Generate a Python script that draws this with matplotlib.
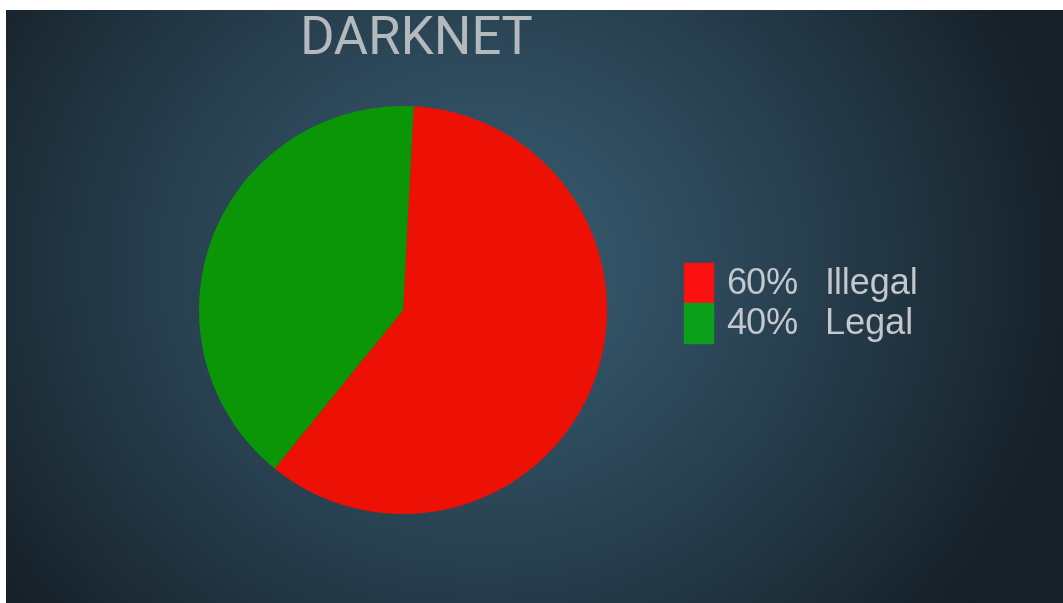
import numpy as np
import matplotlib.pyplot as plt
from matplotlib.patches import Rectangle

# data
labels = ['Illegal', 'Legal']
shares = [60, 40]
colors = ['#ec1005', '#0a9606']
legend_colors = ['#fa1010', '#0ca01a']
title = 'DARKNET'

W, H = 1063, 603
fig = plt.figure(figsize=(W / 100, H / 100), dpi=100)
fig.patch.set_facecolor('white')

# background: radial gradient, leaving a thin white strip top/left
bg = fig.add_axes([6 / W, 0, 1 - 6 / W, 1 - 10 / H])
bg.set_axis_off()
gx, gy = np.meshgrid(np.arange(W), np.arange(H))
t = np.sqrt(((gx - 480) / 600) ** 2 + ((gy - 260) / 560) ** 2)
t = np.clip(t, 0, 1) ** 1.2
c_in = np.array([0x38, 0x5c, 0x72]) / 255
c_out = np.array([0x16, 0x20, 0x28]) / 255
img = c_in[None, None, :] * (1 - t[..., None]) + c_out[None, None, :] * t[..., None]
bg.imshow(img, aspect='auto', extent=(0, 1, 0, 1))

# pie
cx, cy, r = 403, 310, 204
ax = fig.add_axes([(cx - r) / W, (H - cy - r) / H, 2 * r / W, 2 * r / H])
ax.pie(shares, colors=colors, startangle=87, counterclock=False,
       wedgeprops=dict(linewidth=0))
ax.set_xlim(-1, 1)
ax.set_ylim(-1, 1)
ax.set_aspect('auto')
ax.set_axis_off()

# title
fig.text(416 / W, 1 - 39 / H, title, ha='center', va='center',
         fontsize=38, color='#b4b9bd', family='Roboto')

# legend
for i, (lab, val) in enumerate(zip(labels, shares)):
    y0 = 263 + i * 40
    fig.patches.append(Rectangle((684 / W, 1 - (y0 + 40) / H), 29 / W, 40 / H,
                                 transform=fig.transFigure, color=legend_colors[i]))
    fig.text(726 / W, 1 - (y0 + 21) / H, f'{val}%', ha='left', va='center',
             fontsize=26, color='#c4c8cc', family='Liberation Sans')
    fig.text(825 / W, 1 - (y0 + 21) / H, lab, ha='left', va='center',
             fontsize=26, color='#c4c8cc', family='Liberation Sans')

fig.savefig('out.png', dpi=100, facecolor=fig.get_facecolor())
